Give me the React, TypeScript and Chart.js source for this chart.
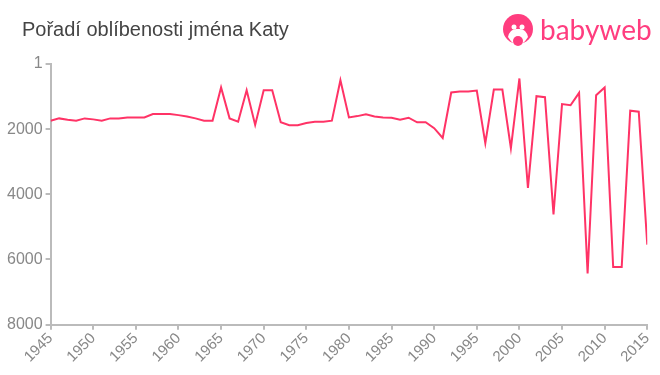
import React, { useEffect, useRef } from "react";
import { Chart, registerables } from "chart.js";

Chart.register(...registerables);

const years: number[] = [];
for (let y = 1945; y <= 2015; y++) years.push(y);

const ranks: number[] = [
  1740, 1670, 1710, 1740, 1670, 1700, 1740, 1670, 1670, 1640,
  1640, 1640, 1535, 1535, 1535, 1570, 1610, 1670, 1740, 1740,
  720, 1670, 1770, 805, 1870, 805, 805, 1790, 1880, 1880,
  1810, 1770, 1770, 1740, 500, 1640, 1600, 1545, 1610, 1640,
  1650, 1710, 1650, 1790, 1790, 1970, 2270, 875, 845, 845,
  815, 2430, 785, 785, 2585, 445, 3805, 990, 1020, 4620,
  1230, 1265, 885, 6430, 960, 720, 6230, 6230, 1435, 1465,
  5545,
];

const yTicks: number[] = [1, 2000, 4000, 6000, 8000];
const title = "Pořadí oblíbenosti jména Katy";

export default function App() {
  const ref = useRef<HTMLCanvasElement>(null);
  useEffect(() => {
    if (!ref.current) return;
    const chart = new Chart(ref.current, {
      type: "line",
      data: {
        datasets: [
          {
            data: years.map((x, i) => ({ x, y: ranks[i] })),
            borderColor: "#ff3366",
            borderWidth: 2,
            pointRadius: 0,
            tension: 0,
            fill: false,
          },
        ],
      },
      options: {
        animation: false,
        responsive: false,
        maintainAspectRatio: false,
        layout: { padding: { top: 64, right: 12, left: 4, bottom: 9 } },
        plugins: { legend: { display: false }, tooltip: { enabled: false } },
        scales: {
          x: {
            type: "linear",
            min: 1945,
            max: 2015,
            ticks: {
              stepSize: 5,
              maxRotation: 45,
              minRotation: 45,
              color: "#888",
              font: { family: "Liberation Sans", size: 15 },
              callback: (v: any) => String(v),
              padding: 0,
            },
            grid: {
              drawOnChartArea: false,
              drawTicks: true,
              tickLength: 5,
              color: "#bbb",
              lineWidth: 2,
            },
            border: { color: "#bbb", width: 2 },
          },
          y: {
            type: "linear",
            reverse: true,
            min: 1,
            max: 8000,
            afterBuildTicks: (scale: any) => {
              scale.ticks = yTicks.map((v) => ({ value: v }));
            },
            ticks: {
              color: "#888",
              font: { family: "Liberation Sans", size: 16 },
              callback: (v: any) => String(v),
              padding: 3,
            },
            grid: {
              drawOnChartArea: false,
              drawTicks: true,
              tickLength: 5,
              color: "#bbb",
              lineWidth: 2,
            },
            border: { color: "#bbb", width: 2 },
          },
        },
      },
    });
    return () => chart.destroy();
  }, []);

  return (
    <div
      style={{
        position: "fixed",
        left: 0,
        top: 0,
        width: 660,
        height: 375,
        background: "#fff",
        overflow: "hidden",
      }}
    >
      <canvas ref={ref} width={660} height={375} style={{ position: "absolute", left: 0, top: 0 }} />
      <div
        style={{
          position: "absolute",
          left: 22,
          top: 18,
          fontFamily: "Liberation Sans, Arial, sans-serif",
          fontSize: 20,
          color: "#444",
        }}
      >
        {title}
      </div>
      <div
        style={{
          position: "absolute",
          left: 501,
          top: 13,
          display: "flex",
          alignItems: "center",
        }}
      >
        <svg width="36" height="36" viewBox="0 0 36 36">
          <circle cx="17" cy="16" r="15" fill="#ff3d7f" />
          <path d="M7 24 Q9 15 17 16 Q25 15 27 24 Q22 32 17 32 Q12 32 7 24 Z" fill="#fff" />
          <circle cx="17" cy="28" r="5" fill="#ff3d7f" />
          <circle cx="13" cy="14" r="2.5" fill="#fff" />
          <circle cx="21" cy="14" r="2.5" fill="#fff" />
        </svg>
        <span
          style={{
            fontFamily: "Lato, 'Open Sans', sans-serif",
            fontSize: 28,
            color: "#ff3d7f",
            marginLeft: 3,
            marginTop: -4,
          }}
        >
          babyweb
        </span>
      </div>
    </div>
  );
}
